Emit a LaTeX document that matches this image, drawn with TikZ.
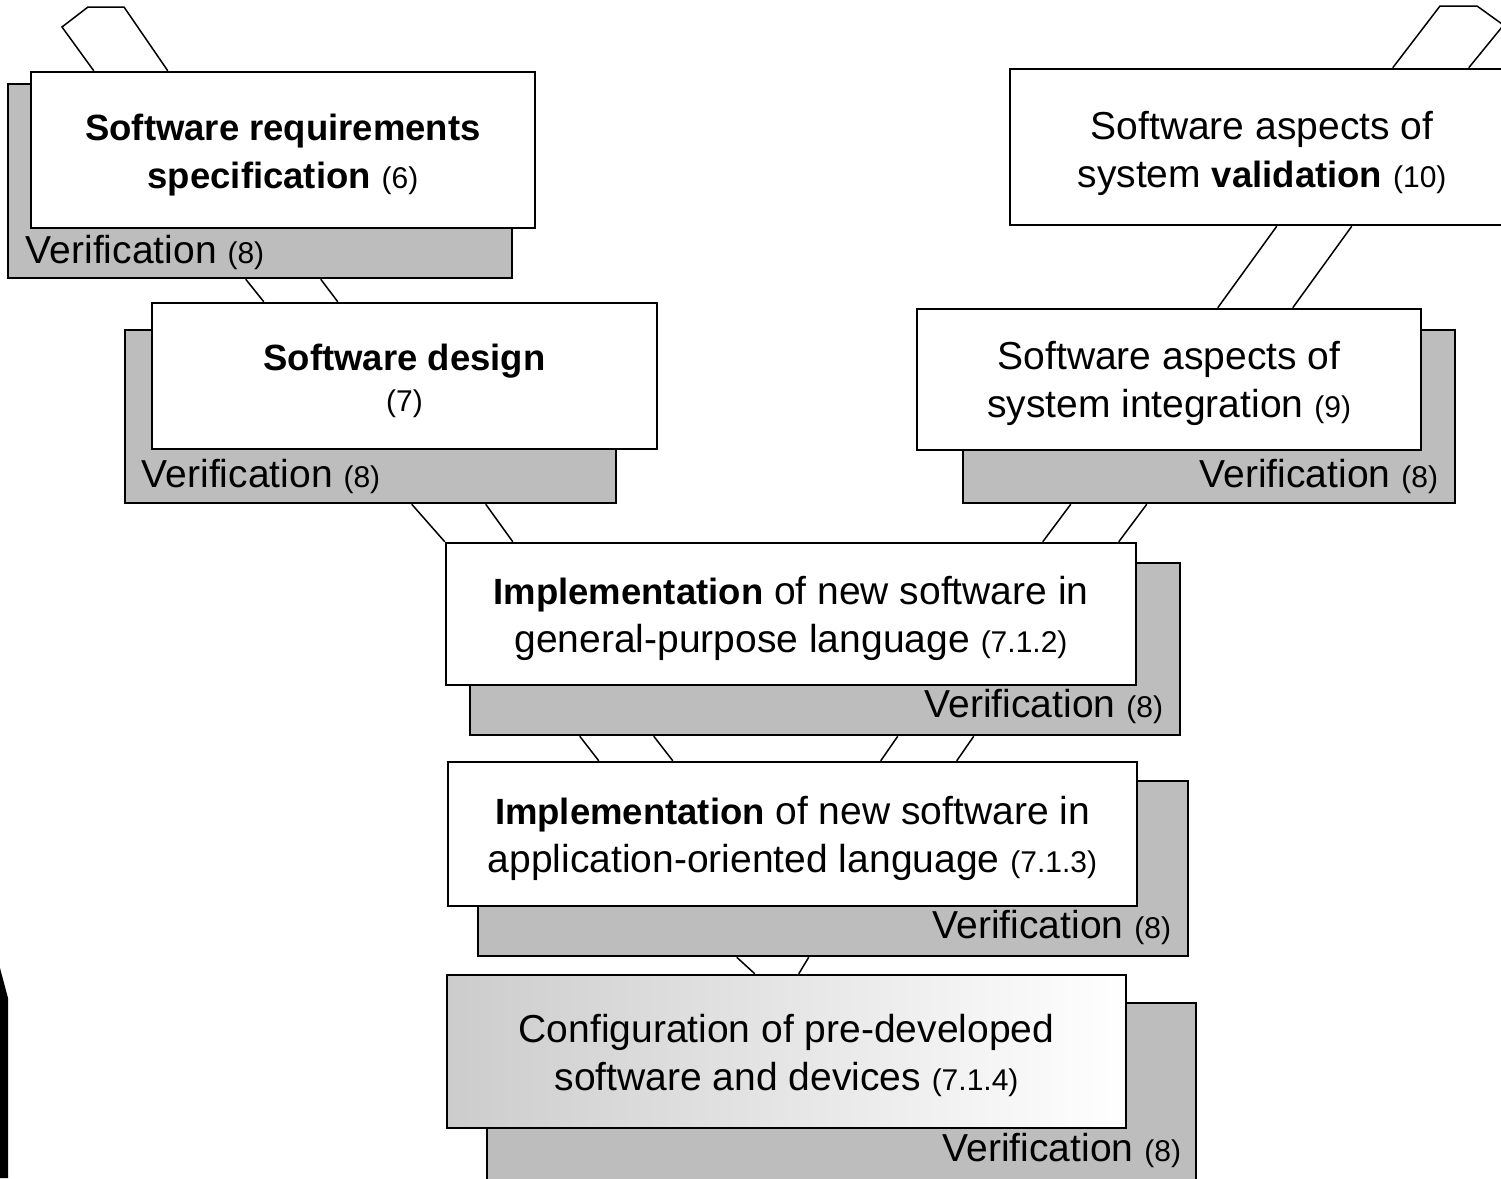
\documentclass[tikz,border=0pt]{standalone}
\usepackage{fontspec}
\setmainfont{Liberation Sans}
\usetikzlibrary{calc}
\tikzset{
  mainbox/.style={draw=black, line width=2.5pt, fill=white, inner sep=0pt},
  boxtext/.style={align=center, inner sep=0pt, font=\fontsize{39}{48}\selectfont},
  verbox/.style={draw=black, line width=2.5pt, fill=black!26, inner sep=0pt},
  band/.style={draw=black, line width=1.5pt},
  verlabel/.style={inner sep=0pt, font=\fontsize{39}{44}\selectfont},
}
\newcommand\smallnum[1]{{\fontsize{30}{36}\selectfont #1}}
\newcommand\boldpart[1]{{\fontsize{36.5}{48}\selectfont\bfseries #1}}
\newcommand\verif{Verification \smallnum{(8)}}
\begin{document}
\begin{tikzpicture}[x=1pt,y=-1pt]
\useasboundingbox (0,0) rectangle (1501,1178);
\fill[white] (0,0) rectangle (1501,1178);

% verification (shadow) boxes
\node[verbox, minimum width=504pt, minimum height=194pt] (b1v) at (260,181) {};
\node[verbox, minimum width=491pt, minimum height=173pt] (b2v) at (370.5,416.5) {};
\node[verbox, minimum width=492pt, minimum height=173pt] (b6v) at (1209,416.5) {};
\node[verbox, minimum width=710pt, minimum height=172pt] (b3v) at (825,649) {};
\node[verbox, minimum width=710pt, minimum height=175pt] (b4v) at (833,868.5) {};
\node[verbox, minimum width=709pt, minimum height=187pt] (b5v) at (841.5,1096.5) {};

% verification labels
\node[verlabel, anchor=base west] (l1) at ([xshift=19pt,yshift=16pt]b1v.south west) {\verif};
\node[verlabel, anchor=base west] (l2) at ([xshift=18pt,yshift=17pt]b2v.south west) {\verif};
\node[verlabel, anchor=base east] (l6) at ([xshift=-18pt,yshift=17pt]b6v.south east) {\verif};
\node[verlabel, anchor=base east] (l3) at ([xshift=-18pt,yshift=19pt]b3v.south east) {\verif};
\node[verlabel, anchor=base east] (l4) at ([xshift=-18pt,yshift=19pt]b4v.south east) {\verif};
\node[verlabel, anchor=base east] (l5) at ([xshift=-16pt,yshift=30pt]b5v.south east) {\verif};

% main boxes
\node[mainbox, minimum width=504pt, minimum height=156pt] (b1) at (283,150) {};
\node[mainbox, minimum width=505pt, minimum height=146pt] (b2) at (404.5,376) {};
\node[mainbox, minimum width=690pt, minimum height=142pt] (b3) at (791,614) {};
\node[mainbox, minimum width=689pt, minimum height=144pt] (b4) at (792.5,834) {};
\node[mainbox, minimum width=679pt, minimum height=153pt, left color=black!20, right color=white] (b5) at (786.5,1051.5) {};
\node[mainbox, minimum width=504pt, minimum height=141pt] (b6) at (1169,379.5) {};
\node[mainbox, minimum width=504pt, minimum height=156pt] (b7) at (1262,147) {};

% box texts
\node[boxtext] (t1) at ([yshift=-5pt]b1.center)
  {\boldpart{Software requirements}\\\boldpart{specification} \smallnum{(6)}};
\node[boxtext] (t2) at ([yshift=-5pt]b2.center)
  {\boldpart{Software design}\\[-7pt]\smallnum{(7)}};
\node[boxtext] (t3) at ([yshift=-4pt]b3.center)
  {\boldpart{Implementation} of new software in\\general-purpose language \smallnum{(7.1.2)}};
\node[boxtext] (t4) at ([yshift=-4pt]b4.center)
  {\boldpart{Implementation} of new software in\\application-oriented language \smallnum{(7.1.3)}};
\node[boxtext] (t5) at ([yshift=-4pt]b5.center)
  {Configuration of pre-developed\\software and devices \smallnum{(7.1.4)}};
\node[boxtext] (t6) at ([yshift=-4pt]b6.center)
  {Software aspects of\\system integration \smallnum{(9)}};
\node[boxtext] (t7) at ([yshift=-6pt]b7.center)
  {Software aspects of\\system \boldpart{validation} \smallnum{(10)}};

% bands between boxes
\draw[band] ([xshift=239pt]b1v.south west) -- ([xshift=113pt]b2.north west);
\draw[band] ([xshift=314pt]b1v.south west) -- ([xshift=187pt]b2.north west);
\draw[band] ([xshift=288pt]b2v.south west) -- ([xshift=0pt]b3.north west);
\draw[band] ([xshift=362pt]b2v.south west) -- ([xshift=68pt]b3.north west);
\draw[band] ([xshift=109pt]b6v.south west) -- ([xshift=598pt]b3.north west);
\draw[band] ([xshift=185pt]b6v.south west) -- ([xshift=674pt]b3.north west);
\draw[band] ([xshift=111pt]b3v.south west) -- ([xshift=152pt]b4.north west);
\draw[band] ([xshift=185pt]b3v.south west) -- ([xshift=226pt]b4.north west);
\draw[band] ([xshift=429pt]b3v.south west) -- ([xshift=434pt]b4.north west);
\draw[band] ([xshift=505pt]b3v.south west) -- ([xshift=510pt]b4.north west);
\draw[band] ([xshift=260pt]b4v.south west) -- ([xshift=309pt]b5.north west);
\draw[band] ([xshift=332pt]b4v.south west) -- ([xshift=353pt]b5.north west);
\draw[band] ([xshift=302pt]b6.north west) -- ([xshift=268pt]b7.south west);
\draw[band] ([xshift=377pt]b6.north west) -- ([xshift=343pt]b7.south west);

% open ends at the top
\coordinate (tl1) at (62,27);
\coordinate (tl2) at (88,7);
\coordinate (tl3) at (124,7);
\draw[band] ([xshift=64pt]b1.north west) -- (tl1) -- (tl2) -- (tl3) -- ([xshift=138pt]b1.north west);
\coordinate (tr1) at (1440,6);
\coordinate (tr2) at (1477,6);
\coordinate (tr3) at (1502,24);
\coordinate (tr4) at (1502,27);
\draw[band] ([xshift=384pt]b7.north west) -- (tr1) -- (tr2) -- (tr3);
\draw[band] ([xshift=460pt]b7.north west) -- (tr4);

% dark mark at the lower left edge
\fill[black] (0,968) -- (8,998) -- (8,1178) -- (0,1178) -- cycle;
\end{tikzpicture}
\end{document}
